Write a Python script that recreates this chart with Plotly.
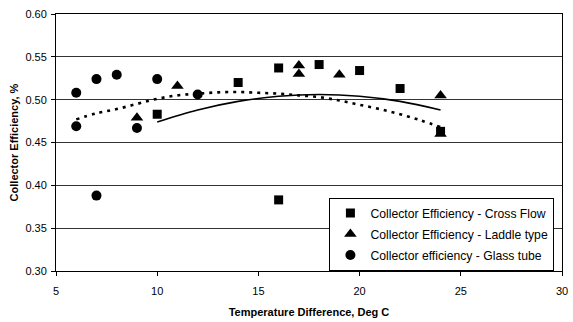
import plotly.graph_objects as go

# Data
cross_x = [10, 14, 16, 16, 18, 20, 22, 24]
cross_y = [0.483, 0.520, 0.537, 0.383, 0.541, 0.534, 0.513, 0.463]

laddle_x = [9, 11, 17, 17, 19, 20, 24, 24]
laddle_y = [0.479, 0.516, 0.540, 0.530, 0.529, 0.372, 0.505, 0.460]

glass_x = [6, 6, 7, 7, 8, 9, 10, 12]
glass_y = [0.508, 0.469, 0.524, 0.388, 0.529, 0.467, 0.524, 0.506]

# Trend lines
trend_solid_x = [10, 12, 14, 16, 18, 20, 22, 24]
trend_solid_y = [0.474, 0.488, 0.498, 0.504, 0.506, 0.504, 0.498, 0.488]

trend_dot_x = [6, 7, 8, 9, 10, 11, 12, 13, 14, 15, 16, 17, 18, 19, 20, 21, 22, 23, 24]
trend_dot_y = [0.477, 0.484, 0.489, 0.495, 0.501, 0.505, 0.507, 0.5085, 0.509, 0.508,
               0.507, 0.505, 0.503, 0.499, 0.494, 0.489, 0.483, 0.476, 0.468]

x_ticks = [5, 10, 15, 20, 25, 30]
y_ticks = [0.30, 0.35, 0.40, 0.45, 0.50, 0.55, 0.60]

FONT = "Arial, Liberation Sans, sans-serif"

fig = go.Figure()

fig.add_trace(go.Scatter(
    x=trend_dot_x, y=trend_dot_y, mode="lines", showlegend=False,
    line=dict(color="black", width=2.6, dash="3px,5px", shape="spline"), hoverinfo="skip"))
fig.add_trace(go.Scatter(
    x=trend_solid_x, y=trend_solid_y, mode="lines", showlegend=False,
    line=dict(color="black", width=1.6, shape="spline"), hoverinfo="skip"))

fig.add_trace(go.Scatter(
    x=cross_x, y=cross_y, mode="markers", name="Collector Efficiency - Cross Flow",
    legendgroup="a",
    marker=dict(symbol="square", size=9, color="black")))
fig.add_trace(go.Scatter(
    x=laddle_x, y=laddle_y, mode="markers", name="Collector Efficiency - Laddle type",
    legendgroup="b",
    marker=dict(symbol="triangle-up", size=11, color="black")))
fig.add_trace(go.Scatter(
    x=glass_x, y=glass_y, mode="markers", name="Collector efficiency - Glass tube",
    legendgroup="c",
    marker=dict(symbol="circle", size=10, color="black")))

fig.update_layout(
    width=573, height=322,
    margin=dict(l=56, r=5, t=14, b=49),
    paper_bgcolor="white", plot_bgcolor="white",
    font=dict(family=FONT, size=11, color="black"),
    showlegend=True,
    legend=dict(
        x=0.985, xanchor="right", y=0.2857, yanchor="top",
        bgcolor="white", bordercolor="black", borderwidth=1,
        font=dict(family=FONT, size=12.2, color="black"),
        itemwidth=30, tracegroupgap=2,
    ),
    xaxis=dict(
        range=[5, 30], tickvals=x_ticks, ticktext=[str(v) for v in x_ticks],
        showgrid=False, zeroline=False,
        showline=True, linecolor="black", linewidth=1, mirror=True,
        ticks="outside", ticklen=4, tickcolor="black",
        tickfont=dict(family=FONT, size=11), ticklabeloverflow="allow",
        ticklabelstandoff=6,
        title=dict(text="<b>Temperature Difference, Deg C</b>",
                   font=dict(family=FONT, size=11), standoff=12),
    ),
    yaxis=dict(
        range=[0.30, 0.60], tickvals=y_ticks, ticktext=[f"{v:.2f}" for v in y_ticks],
        showgrid=True, gridcolor="#333333", gridwidth=1, zeroline=False,
        showline=True, linecolor="black", linewidth=1, mirror=True,
        ticks="outside", ticklen=4, tickcolor="black",
        tickfont=dict(family=FONT, size=11), ticklabelstandoff=2,
        title=dict(text="<b>Collector Efficiency, %</b>",
                   font=dict(family=FONT, size=11), standoff=4),
    ),
)

fig.write_html("out.html", config={"displayModeBar": False},
               post_script="document.body.style.margin='0';document.body.style.overflow='hidden';")
